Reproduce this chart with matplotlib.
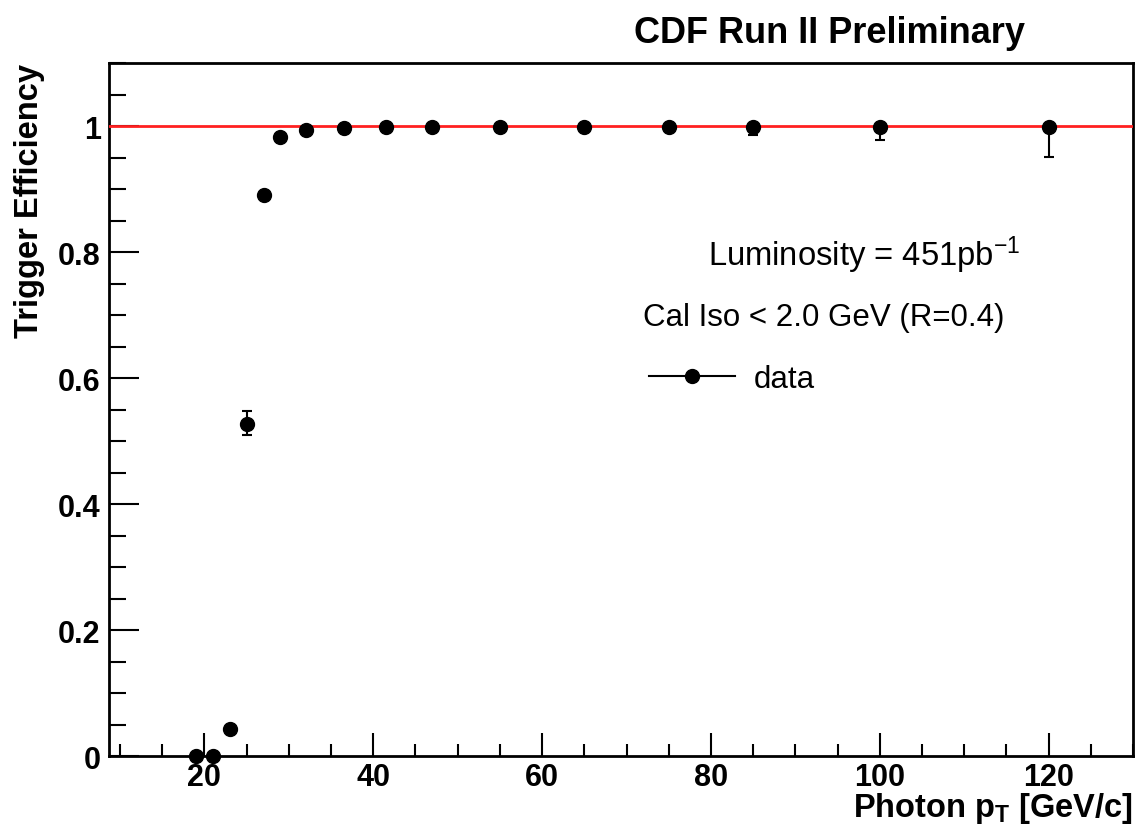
import matplotlib
matplotlib.use('Agg')
import matplotlib.pyplot as plt
from matplotlib.ticker import MultipleLocator
from matplotlib.lines import Line2D

plt.rcParams['font.family'] = ['Liberation Sans', 'DejaVu Sans']
plt.rcParams['mathtext.fontset'] = 'custom'
plt.rcParams['mathtext.rm'] = 'Liberation Sans'
plt.rcParams['mathtext.bf'] = 'Liberation Sans:bold'
plt.rcParams['mathtext.it'] = 'Liberation Sans:italic'

# data
pt = [19, 21, 23, 25, 27, 29, 32, 36.5, 41.5, 47, 55, 65, 75, 85, 100, 120]
eff = [0.0, 0.0, 0.043, 0.527, 0.891, 0.982, 0.993, 0.997, 0.999, 0.999,
       0.999, 0.999, 0.999, 0.998, 0.998, 0.998]
err_lo = [0.0, 0.0, 0.0, 0.018, 0.0, 0.0, 0.0, 0.0, 0.0, 0.0,
          0.0, 0.0, 0.0, 0.013, 0.021, 0.047]
err_hi = [0.0, 0.0, 0.0, 0.020, 0.0, 0.0, 0.0, 0.0, 0.0, 0.0,
          0.0, 0.0, 0.0, 0.002, 0.002, 0.002]

fig = plt.figure(figsize=(11.37, 8.28), dpi=100)
ax = fig.add_axes([0.0959, 0.0857, 0.9006, 0.837])

# red reference line at 100% efficiency, drawn over the tick marks
ax.axhline(1.0, color='#ff2020', lw=2, zorder=2.6)
ax.errorbar(pt, eff, yerr=[err_lo, err_hi], fmt='o', color='black',
            ms=10, elinewidth=1.5, capsize=3.5, capthick=1.5, zorder=3,
            clip_on=False)

ax.set_xlim(8.7, 130)
ax.set_ylim(0, 1.1)
ax.xaxis.set_major_locator(MultipleLocator(20))
ax.xaxis.set_minor_locator(MultipleLocator(5))
ax.yaxis.set_minor_locator(MultipleLocator(0.05))
ax.set_yticks([0, 0.2, 0.4, 0.6, 0.8, 1.0])
ax.set_yticklabels(['0', '0.2', '0.4', '0.6', '0.8', '1'])

ax.tick_params(which='both', direction='in', labelsize=22)
ax.tick_params(axis='x', which='major', length=16.5, width=1.5, pad=4)
ax.tick_params(axis='x', which='minor', length=8.6, width=1.5)
ax.tick_params(axis='y', which='major', length=21.6, width=1.5, pad=6)
ax.tick_params(axis='y', which='minor', length=12, width=1.5)
for lab in ax.get_xticklabels() + ax.get_yticklabels():
    lab.set_fontweight('bold')
for s in ax.spines.values():
    s.set_linewidth(2)

ax.set_ylabel('Trigger Efficiency', fontsize=23.5, fontweight='bold')
ax.yaxis.set_label_coords(-0.0625, 1.0)
ax.yaxis.label.set_ha('right')
ax.set_xlabel(r'Photon p$_\mathbf{T}$ [GeV/c]', fontsize=23.5,
              fontweight='bold')
ax.xaxis.set_label_coords(1.0, -0.0866)
ax.xaxis.label.set_ha('right')
ax.xaxis.label.set_va('baseline')

fig.text(0.9015, 0.960, 'CDF Run II Preliminary', fontsize=26,
         fontweight='bold', ha='right', va='center')

ax.text(0.89, 0.724, r'Luminosity = 451pb$^{-1}$', transform=ax.transAxes,
        fontsize=23.6, ha='right', va='center')
ax.text(0.521, 0.633, 'Cal Iso < 2.0 GeV (R=0.4)', transform=ax.transAxes,
        fontsize=22.5, ha='left', va='center')
handle = Line2D([], [], color='black', lw=1.5, marker='o', ms=10)
leg = ax.legend([handle], ['data'], loc='center left',
                bbox_to_anchor=(0.527, 0.544), frameon=False, fontsize=22.5,
                handlelength=2.75, handletextpad=0.6, borderpad=0,
                borderaxespad=0)

fig.savefig('out.png', dpi=100)
